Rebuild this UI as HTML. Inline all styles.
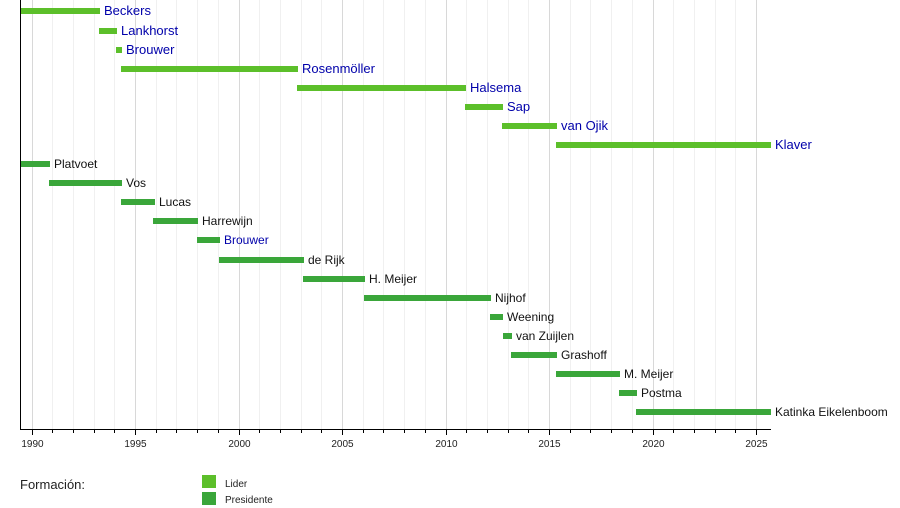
<!DOCTYPE html>
<html><head><meta charset="utf-8"><style>
html,body{margin:0;padding:0;background:#fff;}
svg{display:block;font-family:"Liberation Sans",sans-serif;}
</style></head><body>
<svg width="900" height="508" viewBox="0 0 900 508" xmlns="http://www.w3.org/2000/svg">
<g id="grid"></g>
<g id="bars"></g>
<line x1="20.5" y1="0" x2="20.5" y2="429.5" stroke="#000" stroke-width="1"/>
<line x1="20" y1="429.5" x2="771" y2="429.5" stroke="#000" stroke-width="1"/>
<g id="ticks"></g>
<text x="20" y="489" font-size="13" fill="#222">Formación:</text>
<rect x="202" y="475" width="14" height="13" fill="#5cbf2a"/>
<text x="225" y="487" font-size="10" fill="#222">Lider</text>
<rect x="202" y="492" width="14" height="13" fill="#3aa63a"/>
<text x="225" y="503" font-size="10" fill="#222">Presidente</text>
<script>
var ns="http://www.w3.org/2000/svg";
function X(y){return 31.5+(y-1990)*20.7;}
var g=document.getElementById('grid'),t=document.getElementById('ticks'),b=document.getElementById('bars');
function el(p,n,a,txt){var e=document.createElementNS(ns,n);for(var k in a)e.setAttribute(k,a[k]);if(txt)e.textContent=txt;p.appendChild(e);return e;}
for(var y=1990;y<=2025;y++){var x=Math.round(X(y))+0.5;var maj=y%5==0;
el(g,'line',{x1:x,y1:0,x2:x,y2:429,stroke:maj?'#d8d8d8':'#f0f0f0','stroke-width':1});
el(t,'line',{x1:x,y1:430,x2:x,y2:maj?435:433,stroke:'#000','stroke-width':1});
if(maj)el(t,'text',{x:x,y:447,'font-size':10,'text-anchor':'middle',fill:'#222'},String(y));}
var L='#5cbf2a',P='#3aa63a';
var rows=[[11,20,100,'Beckers',1],[31,99,117,'Lankhorst',1],[50,116,122,'Brouwer',1],[69,121,298,'Rosenmöller',1],[88,297,466,'Halsema',1],[107,465,503,'Sap',1],[126,502,557,'van Ojik',1],[145,556,771,'Klaver',1],
[164,20,50,'Platvoet',0],[183,49,122,'Vos',0],[202,121,155,'Lucas',0],[221,153,198,'Harrewijn',0],[240,197,220,'Brouwer',2],[260,219,304,'de Rijk',0],[279,303,365,'H. Meijer',0],[298,364,491,'Nijhof',0],[317,490,503,'Weening',0],[336,503,512,'van Zuijlen',0],[355,511,557,'Grashoff',0],[374,556,620,'M. Meijer',0],[393,619,637,'Postma',0],[412,636,771,'Katinka Eikelenboom',0]];
rows.forEach(function(r){el(b,'rect',{x:r[1],y:r[0]-3,width:r[2]-r[1],height:6,fill:r[4]==1?L:P});
el(b,'text',{x:r[2]+4,y:r[0]+4,'font-size':r[4]==1?13:12,fill:r[4]?'#0000aa':'#111'},r[3]);});
</script>
</svg>
</body></html>
